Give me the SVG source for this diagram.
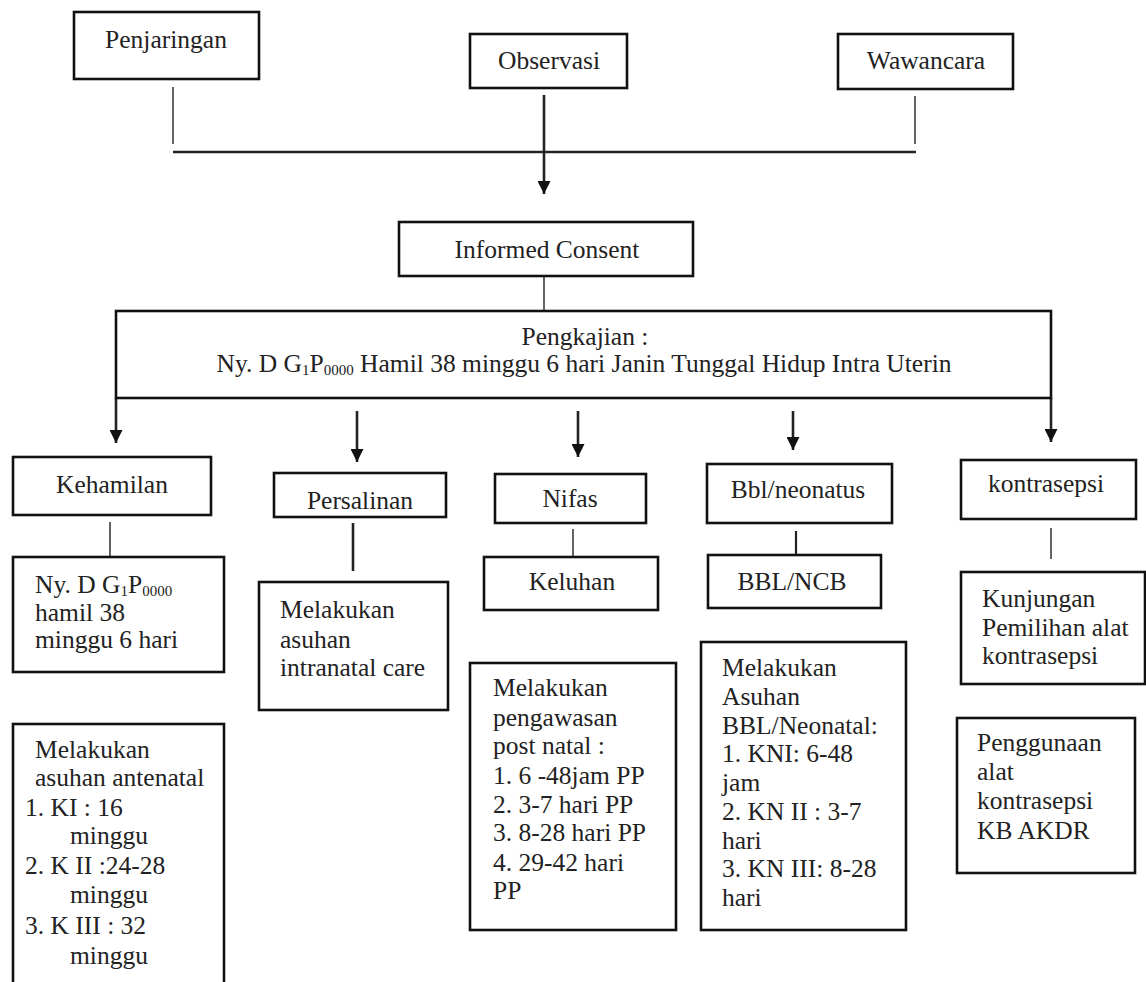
<svg xmlns="http://www.w3.org/2000/svg" width="1146" height="982" viewBox="0 0 1146 982" font-family="'Liberation Serif', Tinos, 'Times New Roman', 'DejaVu Serif', serif">
<style>
.box{fill:#fff;stroke:#111;stroke-width:2.6}
.t{font-family:'Liberation Serif', Tinos, 'Times New Roman', 'DejaVu Serif', serif;font-size:25.5px;fill:#222}
.c{text-anchor:middle}
.ln{stroke:#222;fill:none}
.thin{stroke-width:1.4}
.mid{stroke-width:2.2}
.thick{stroke-width:2.6}
.sub{font-size:15px}
</style>
<defs>
<marker id="ah" viewBox="0 0 10 10" refX="10" refY="5" markerWidth="13" markerHeight="13" markerUnits="userSpaceOnUse" orient="auto">
<path d="M0,0 L10,5 L0,10 z" fill="#111"/>
</marker>
</defs>
<rect width="1146" height="982" fill="#fff"/>
<g id="connectors">
<line class="ln thin" x1="173" y1="87" x2="173" y2="144"/>
<line class="ln thin" x1="915" y1="96" x2="915" y2="144"/>
<line class="ln thick" x1="173" y1="152" x2="916" y2="152"/>
<line class="ln thick" x1="544" y1="95" x2="544" y2="194" marker-end="url(#ah)"/>
<line class="ln thin" x1="544" y1="276" x2="544" y2="311"/>
<line class="ln thick" x1="116" y1="398" x2="116" y2="443" marker-end="url(#ah)"/>
<line class="ln thick" x1="1051" y1="398" x2="1051" y2="442" marker-end="url(#ah)"/>
<line class="ln thick" x1="357" y1="411" x2="357" y2="462" marker-end="url(#ah)"/>
<line class="ln thick" x1="578" y1="411" x2="578" y2="457" marker-end="url(#ah)"/>
<line class="ln thick" x1="793" y1="411" x2="793" y2="450" marker-end="url(#ah)"/>
<line class="ln thin" x1="110" y1="522" x2="110" y2="557"/>
<line class="ln thick" x1="353" y1="523" x2="353" y2="571"/>
<line class="ln thin" x1="573" y1="529" x2="573" y2="557"/>
<line class="ln mid" x1="796" y1="531" x2="796" y2="555"/>
<line class="ln thin" x1="1051" y1="528" x2="1051" y2="559"/>
</g>
<g id="penjaringan"><rect class="box" x="74" y="12" width="185" height="67"/><text class="t c" x="166" y="48">Penjaringan</text></g>
<g id="observasi"><rect class="box" x="470" y="34" width="157" height="54"/><text class="t c" x="549" y="69">Observasi</text></g>
<g id="wawancara"><rect class="box" x="838" y="34" width="175" height="55"/><text class="t c" x="926" y="69">Wawancara</text></g>
<g id="informed-consent"><rect class="box" x="399" y="222" width="294" height="54"/><text class="t c" x="547" y="258">Informed Consent</text></g>
<g id="pengkajian"><rect class="box" x="116" y="311" width="935" height="87"/>
<text class="t c" x="585" y="345">Pengkajian :</text>
<text class="t c" x="584" y="372">Ny. D G<tspan class="sub" dy="3">1</tspan><tspan dy="-3">P</tspan><tspan class="sub" dy="3">0000</tspan><tspan dy="-3"> Hamil 38 minggu 6 hari Janin Tunggal Hidup Intra Uterin</tspan></text></g>
<g id="kehamilan"><rect class="box" x="13" y="457" width="198" height="58"/><text class="t c" x="112" y="493">Kehamilan</text></g>
<g id="persalinan"><rect class="box" x="274" y="473" width="172" height="44"/><text class="t c" x="360" y="509">Persalinan</text></g>
<g id="nifas"><rect class="box" x="495" y="474" width="151" height="49"/><text class="t c" x="570" y="507">Nifas</text></g>
<g id="bbl-neonatus"><rect class="box" x="707" y="464" width="185" height="59"/><text class="t c" x="798" y="498">Bbl/neonatus</text></g>
<g id="kontrasepsi"><rect class="box" x="961" y="460" width="175" height="59"/><text class="t c" x="1046" y="492">kontrasepsi</text></g>
<g id="ny-d"><rect class="box" x="13" y="557" width="211" height="115"/>
<text class="t" x="35" y="593">Ny. D G<tspan class="sub" dy="3">1</tspan><tspan dy="-3">P</tspan><tspan class="sub" dy="3">0000</tspan></text>
<text class="t" x="35" y="621">hamil 38</text>
<text class="t" x="35" y="648">minggu 6 hari</text></g>
<g id="intranatal"><rect class="box" x="259" y="582" width="189" height="128"/>
<text class="t" x="280" y="618">Melakukan</text>
<text class="t" x="280" y="648">asuhan</text>
<text class="t" x="280" y="676">intranatal care</text></g>
<g id="keluhan"><rect class="box" x="484" y="557" width="174" height="53"/><text class="t c" x="572" y="590">Keluhan</text></g>
<g id="bbl-ncb"><rect class="box" x="708" y="555" width="173" height="53"/><text class="t c" x="792" y="590">BBL/NCB</text></g>
<g id="kunjungan"><rect class="box" x="961" y="572" width="184" height="112"/>
<text class="t" x="982" y="607">Kunjungan</text>
<text class="t" x="982" y="636">Pemilihan alat</text>
<text class="t" x="982" y="664">kontrasepsi</text></g>
<g id="antenatal"><rect class="box" x="13" y="724" width="211" height="270"/>
<text class="t" x="35" y="758">Melakukan</text>
<text class="t" x="35" y="786">asuhan antenatal</text>
<text class="t" x="25" y="816">1. KI : 16</text>
<text class="t" x="70" y="844">minggu</text>
<text class="t" x="25" y="874">2. K II :24-28</text>
<text class="t" x="70" y="903">minggu</text>
<text class="t" x="25" y="934">3. K III : 32</text>
<text class="t" x="70" y="964">minggu</text></g>
<g id="postnatal"><rect class="box" x="470" y="663" width="206" height="267"/>
<text class="t" x="493" y="696">Melakukan</text>
<text class="t" x="493" y="726">pengawasan</text>
<text class="t" x="493" y="754">post natal :</text>
<text class="t" x="493" y="784">1. 6 -48jam PP</text>
<text class="t" x="493" y="813">2. 3-7 hari PP</text>
<text class="t" x="493" y="841">3. 8-28 hari PP</text>
<text class="t" x="493" y="871">4. 29-42 hari</text>
<text class="t" x="493" y="899">PP</text></g>
<g id="asuhan-bbl"><rect class="box" x="701" y="642" width="205" height="288"/>
<text class="t" x="722" y="676">Melakukan</text>
<text class="t" x="722" y="705">Asuhan</text>
<text class="t" x="722" y="734">BBL/Neonatal:</text>
<text class="t" x="722" y="762">1. KNI: 6-48</text>
<text class="t" x="722" y="791">jam</text>
<text class="t" x="722" y="820">2. KN II : 3-7</text>
<text class="t" x="722" y="849">hari</text>
<text class="t" x="722" y="877">3. KN III: 8-28</text>
<text class="t" x="722" y="906">hari</text></g>
<g id="penggunaan"><rect class="box" x="957" y="718" width="178" height="155"/>
<text class="t" x="977" y="751">Penggunaan</text>
<text class="t" x="977" y="780">alat</text>
<text class="t" x="977" y="809">kontrasepsi</text>
<text class="t" x="977" y="839">KB AKDR</text></g>
</svg>
